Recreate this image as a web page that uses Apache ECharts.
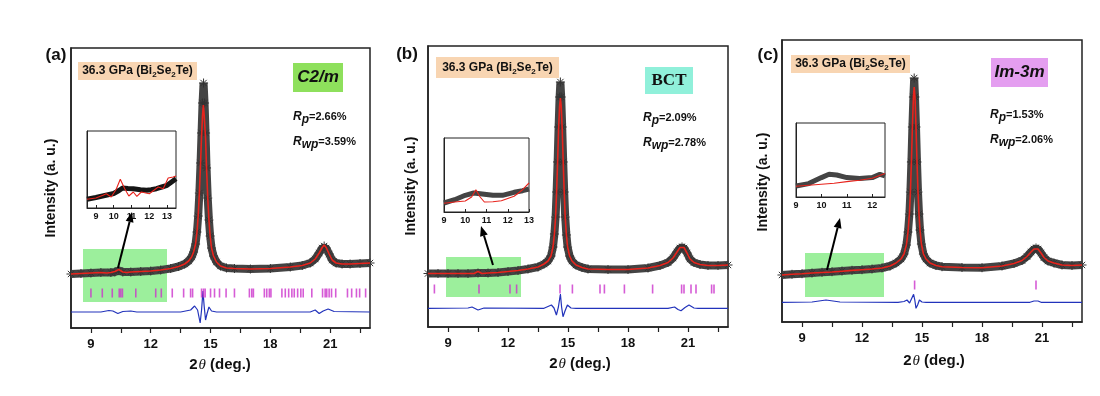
<!DOCTYPE html>
<html>
<head>
<meta charset="utf-8">
<script src="https://cdn.jsdelivr.net/npm/echarts@6.0.0/dist/echarts.min.js"></script>
<style>
  html, body { margin: 0; background: #fff; }
  #chart { width: 1100px; height: 396px; }
</style>
</head>
<body>
<div id="chart"></div>
<script>
// ---- data (2theta in deg., intensity in plot units) ----
const xTickVals = [9, 10.5, 12, 13.5, 15, 16.5, 18, 19.5, 21, 22.5];
const xLabelVals = [9, 12, 15, 18, 21];

const obsA = [[8.0,54],[8.5,54.5],[9.0,55],[9.5,55.5],[10.0,55.5],[10.2,56],[10.4,57.5],[10.6,56],[11.0,56],[11.5,56.5],[12.0,57],[12.5,58],[13.0,59.5],[13.4,61.5],[13.7,64],[13.9,67],[14.05,71],[14.15,76],[14.25,84],[14.32,96],[14.38,112],[14.44,135],[14.5,165],[14.55,195],[14.6,225],[14.65,245],[14.7,225],[14.75,195],[14.8,160],[14.86,130],[14.92,108],[14.98,92],[15.05,80],[15.15,72],[15.3,66],[15.5,62],[15.8,60],[16.2,59.5],[17,59],[18,59.5],[19,61],[19.6,62.5],[20.0,65],[20.25,69],[20.45,75],[20.6,80],[20.7,82],[20.8,80],[20.95,74],[21.1,68],[21.3,65],[21.6,64],[22,64],[22.5,64.5],[23,65]];
const calcA = [[8.0,54],[8.5,54.5],[9.0,55],[9.5,55.5],[9.8,55],[10.0,55.5],[10.2,56.5],[10.4,58.5],[10.6,56],[10.8,55.5],[11.0,56],[11.5,56.5],[12.0,57],[12.5,58],[13.0,59.5],[13.4,61.5],[13.7,64],[13.9,67],[14.05,71],[14.15,76],[14.25,84],[14.32,96],[14.38,112],[14.44,135],[14.5,165],[14.55,192],[14.6,213],[14.64,223],[14.68,213],[14.75,190],[14.8,160],[14.86,130],[14.92,108],[14.98,92],[15.05,80],[15.15,72],[15.3,66],[15.5,62],[15.8,60],[16.2,59.5],[17,59],[18,59.5],[19,61],[19.6,62.5],[20.0,65],[20.25,69],[20.45,75],[20.6,80.5],[20.7,83],[20.8,80.5],[20.95,74],[21.1,68],[21.3,65],[21.6,64],[22,64],[22.5,64.5],[23,65]];
const diffA = [[8,16],[9.5,16],[9.9,17.5],[10.1,17],[10.35,14.5],[10.6,16.5],[11.0,17],[11.3,16],[13.5,16],[14.0,18],[14.2,22],[14.35,18],[14.48,5],[14.55,18],[14.62,37],[14.68,22],[14.75,8],[14.82,14],[14.92,21],[15.05,17],[15.3,16],[20.0,16],[20.25,18],[20.45,14.5],[20.65,17],[20.9,19],[21.2,16.5],[23,16]];
const refA = [9.0,9.57,10.07,10.42,10.5,10.58,11.25,12.25,12.53,13.08,13.65,14.0,14.1,14.55,14.65,14.73,15.0,15.2,15.45,15.78,16.2,16.95,17.07,17.15,17.7,17.82,17.95,18.03,18.58,18.75,18.92,19.08,19.2,19.37,19.53,19.65,20.08,20.62,20.75,20.83,20.95,21.07,21.28,21.87,22.08,22.32,22.48,22.78];
const insObsA = [[8.5,8.7],[9.0,10.5],[9.5,12.5],[10.0,14.5],[10.3,17.5],[10.5,20],[10.8,19.5],[11.1,19.3],[11.5,18.3],[11.85,17.7],[12.1,18.3],[12.4,19.3],[12.7,21],[13.0,22.7],[13.25,26],[13.5,29.3]];
const insCalcA = [[8.5,8.7],[9.0,10],[9.4,12.7],[9.58,14.3],[9.86,11],[10.14,18.7],[10.37,28.7],[10.62,19.3],[10.85,12],[11.1,16],[11.3,11.7],[11.55,16],[12.0,14.3],[12.5,21],[12.78,19.3],[13.06,30],[13.34,31],[13.5,32]];

const obsB = [[8.0,53.5],[8.5,53.5],[9.0,53.5],[9.5,53.5],[10.0,53.5],[10.5,54],[11.0,54],[11.5,54.5],[12.0,55.5],[12.5,56.5],[13.0,58],[13.5,60],[13.8,63],[14.0,66],[14.15,71],[14.25,80],[14.32,93],[14.38,110],[14.43,135],[14.48,165],[14.53,200],[14.58,230],[14.62,245],[14.66,230],[14.71,200],[14.76,165],[14.81,135],[14.86,110],[14.92,92],[14.98,80],[15.08,71],[15.2,66],[15.4,62],[15.7,59.5],[16,58],[17,57.5],[18,57.5],[19,59],[19.6,61.5],[20.0,64.5],[20.25,69],[20.45,75],[20.6,79],[20.7,80],[20.8,79],[20.95,74],[21.1,68],[21.3,64.5],[21.6,62.5],[22,61.5],[22.5,61.5],[23,62]];
const calcB = [[8.0,53.5],[8.5,53.5],[9.0,53.5],[9.5,53.5],[10.0,53.5],[10.3,53.5],[10.5,55.5],[10.7,53.5],[11.0,54],[11.5,54.5],[12.0,55.5],[12.5,56.5],[13.0,58],[13.5,60],[13.8,63],[14.0,66],[14.15,71],[14.25,80],[14.32,93],[14.38,110],[14.43,135],[14.48,165],[14.53,198],[14.58,221],[14.62,229],[14.66,221],[14.71,198],[14.76,165],[14.81,135],[14.86,110],[14.92,92],[14.98,80],[15.08,71],[15.2,66],[15.4,62],[15.7,59.5],[16,58],[17,57.5],[18,57.5],[19,59],[19.6,61.5],[20.0,64.5],[20.25,69],[20.45,75],[20.6,79.5],[20.7,80.5],[20.8,79.5],[20.95,74],[21.1,68],[21.3,64.5],[21.6,62.5],[22,61.5],[22.5,61.5],[23,62]];
const diffB = [[8,18.7],[10.0,19],[10.2,20],[10.5,17],[10.8,19],[13.8,18.7],[14.17,22],[14.3,19],[14.42,12],[14.52,20],[14.62,33],[14.68,20],[14.75,10.3],[14.85,16],[14.97,22],[15.15,19],[15.4,18.7],[20.0,18.7],[20.33,20],[20.5,17.5],[20.65,16.3],[20.85,19.5],[21.05,22],[21.3,19],[21.5,18.7],[23,18.7]];
const refB = [8.32,10.55,12.1,12.43,14.6,15.22,16.6,16.82,17.82,19.23,20.68,20.8,21.15,21.4,22.18,22.3];
const insObsB = [[9,9],[9.5,12.3],[10,16.7],[10.4,19],[10.8,18],[11.3,16.7],[11.75,16.7],[12.3,19.7],[12.7,21.3],[13,23]];
const insCalcB = [[9,8.7],[9.5,10],[10,11],[10.3,15],[10.5,22.3],[10.7,15],[10.9,10],[11.3,10.3],[11.7,11.3],[12.3,15.7],[12.7,22.3],[13,29]];

const obsC = [[8.0,47],[8.5,47.7],[9.0,48.3],[9.5,49],[10.0,49.7],[10.5,50.3],[11.0,51],[11.5,51.7],[12.0,52.3],[12.5,53],[13.0,54],[13.4,56],[13.7,59],[13.95,63],[14.1,68],[14.22,77],[14.3,90],[14.37,108],[14.42,130],[14.47,160],[14.52,195],[14.57,225],[14.61,244],[14.65,225],[14.7,195],[14.75,160],[14.8,130],[14.85,108],[14.9,92],[14.97,78],[15.07,68],[15.2,63],[15.4,59],[15.7,56.5],[16,55.3],[17,54.5],[18,54.3],[19,56],[19.6,58.5],[20.0,61.5],[20.25,65.5],[20.45,70],[20.6,73],[20.7,74],[20.8,73],[20.95,69],[21.1,64.5],[21.3,61],[21.6,59],[22,57],[22.5,56.5],[23,57]];
const calcC = [[8.0,47],[8.5,47.7],[9.0,48.3],[9.5,49],[10.0,49.5],[10.5,50],[11.0,50.8],[11.5,51.6],[12.0,52.3],[12.5,53],[13.0,54],[13.4,56],[13.7,59],[13.95,63],[14.1,68],[14.22,77],[14.3,90],[14.37,108],[14.42,130],[14.47,160],[14.52,195],[14.57,225],[14.61,235],[14.65,225],[14.7,195],[14.75,160],[14.8,130],[14.85,108],[14.9,92],[14.97,78],[15.07,68],[15.2,63],[15.4,59],[15.7,56.5],[16,55.3],[17,54.5],[18,54.3],[19,56],[19.6,58.5],[20.0,61.5],[20.25,65.5],[20.45,70],[20.6,73],[20.7,74],[20.8,73],[20.95,69],[21.1,64.5],[21.3,61],[21.6,59],[22,57],[22.5,56.5],[23,57]];
const diffC = [[8,19.7],[9.5,20],[10.2,22],[10.9,20],[13.8,19.7],[14.1,20.5],[14.25,22],[14.38,19],[14.47,17],[14.58,27.7],[14.64,22],[14.7,13.7],[14.78,17],[14.87,22],[15.0,20],[15.2,19.7],[20.4,19.7],[20.6,21],[20.7,23],[20.8,21],[20.95,19.7],[23,19.7]];
const refC = [14.63, 20.7];
const insObsC = [[9,11],[9.5,13.4],[10,19.4],[10.3,22.7],[10.6,22],[11,19.4],[11.5,18.4],[12,19.4],[12.3,22.7],[12.5,21]];
const insCalcC = [[9,10.7],[9.5,11.7],[10,12.7],[10.5,13.7],[11,15.4],[11.5,16.7],[12,18.7],[12.5,23.4]];

const pressureText = '36.3 GPa (Bi{s|2}Se{s|2}Te)';
const phases = ['C2/m', 'BCT', 'Im-3m'];
const rpVals = ['2.66%', '2.09%', '1.53%'];
const rwpVals = ['3.59%', '2.78%', '2.06%'];
const panelTags = ['(a)', '(b)', '(c)'];

// ---- layout ----
const FONT = 'Liberation Sans, Arial, sans-serif';
const panels = [
  { grid: {left: 71, top: 48, width: 299, height: 280}, inset: {left: 87, top: 131, width: 89, height: 77},
    insRange: [8.5, 13.5], insLabels: [9, 10, 11, 12, 13], obs: obsA, calc: calcA, diff: diffA, ref: refA, refH: 35,
    insObs: insObsA, insCalc: insCalcA, insObsColor: '#151515',
    tag: [56, 55], yName: [51, 188], xName: [220, 365],
    pBox: [78, 62, 119, 18], phBox: [293, 63, 50, 29], phColor: '#8ee05c', phFont: 'italic bold 17px ' + FONT,
    rp: [293, 117], rwp: [293, 142],
    green: [83, 249, 84, 53], arrow: [118, 268, 132, 212] },
  { grid: {left: 428, top: 46, width: 300, height: 281}, inset: {left: 444, top: 138, width: 85, height: 74},
    insRange: [9, 13], insLabels: [9, 10, 11, 12, 13], obs: obsB, calc: calcB, diff: diffB, ref: refB, refH: 38,
    insObs: insObsB, insCalc: insCalcB, insObsColor: '#444',
    tag: [407, 54], yName: [411, 186], xName: [580, 364],
    pBox: [436, 57, 123, 21], phBox: [645, 67, 48, 27], phColor: '#90f0da', phFont: 'bold 17px Liberation Serif, Times New Roman, serif',
    rp: [643, 118], rwp: [643, 143],
    green: [446, 257, 75, 40], arrow: [493, 265, 481, 226] },
  { grid: {left: 782, top: 40, width: 300, height: 282}, inset: {left: 796, top: 123, width: 89, height: 74},
    insRange: [9, 12.5], insLabels: [9, 10, 11, 12], obs: obsC, calc: calcC, diff: diffC, ref: refC, refH: 37,
    insObs: insObsC, insCalc: insCalcC, insObsColor: '#444',
    tag: [768, 55], yName: [763, 182], xName: [934, 361],
    pBox: [791, 55, 119, 18], phBox: [991, 58, 57, 29], phColor: '#e49ef0', phFont: 'italic bold 17px ' + FONT,
    rp: [990, 115], rwp: [990, 140],
    green: [805, 253, 79, 44], arrow: [827, 270, 840, 218] }
];

const asterisk = 'path://M4,0L4,8M0,4L8,4M1.2,1.2L6.8,6.8M6.8,1.2L1.2,6.8';

const grids = [], xAxes = [], yAxes = [], series = [], graphics = [];

panels.forEach((p, i) => {
  const gi = grids.length;
  grids.push(Object.assign({show: true, borderColor: '#222', borderWidth: 1.5, backgroundColor: 'transparent'}, p.grid));
  xAxes.push({
    gridIndex: gi, type: 'value', min: 8, max: 23,
    axisLine: {lineStyle: {color: '#222', width: 1.5}},
    axisTick: {customValues: xTickVals, length: 5, lineStyle: {color: '#222', width: 1.2}},
    axisLabel: {customValues: xLabelVals, color: '#111', fontSize: 13, fontWeight: 'bold', fontFamily: FONT, margin: 10},
    splitLine: {show: false}
  });
  yAxes.push({
    gridIndex: gi, type: 'value', min: 0, max: p.grid.height,
    axisLine: {show: true, lineStyle: {color: '#222', width: 1.5}},
    axisTick: {show: false}, axisLabel: {show: false}, splitLine: {show: false}
  });
  series.push({
    type: 'line', xAxisIndex: gi, yAxisIndex: gi, data: p.obs, z: 3,
    symbol: asterisk, symbolSize: 9, showAllSymbol: true,
    lineStyle: {color: '#444', width: 8},
    itemStyle: {color: 'rgba(0,0,0,0)', borderColor: '#333', borderWidth: 1}
  });
  series.push({
    type: 'line', xAxisIndex: gi, yAxisIndex: gi, data: p.calc, z: 4, symbol: 'none',
    lineStyle: {color: '#e8231c', width: 1.6}
  });
  series.push({
    type: 'scatter', xAxisIndex: gi, yAxisIndex: gi, z: 4,
    data: p.ref.map(x => [x, p.refH]),
    symbol: 'rect', symbolSize: [1.6, 9], itemStyle: {color: '#cc33cc'}
  });
  series.push({
    type: 'line', xAxisIndex: gi, yAxisIndex: gi, data: p.diff, z: 4, symbol: 'none',
    lineStyle: {color: '#2233bb', width: 1.2}
  });

  // inset
  const ii = grids.length;
  grids.push(Object.assign({show: true, borderColor: '#222', borderWidth: 1, backgroundColor: '#fff'}, p.inset));
  xAxes.push({
    gridIndex: ii, type: 'value', min: p.insRange[0], max: p.insRange[1],
    axisLine: {lineStyle: {color: '#222', width: 1}},
    axisTick: {customValues: p.insLabels, inside: true, length: 3, lineStyle: {color: '#222'}},
    axisLabel: {customValues: p.insLabels, color: '#111', fontSize: 9, fontWeight: 'bold', fontFamily: FONT, margin: 4},
    splitLine: {show: false}
  });
  yAxes.push({
    gridIndex: ii, type: 'value', min: 0, max: p.inset.height,
    axisLine: {show: true, lineStyle: {color: '#222', width: 1}},
    axisTick: {show: false}, axisLabel: {show: false}, splitLine: {show: false}
  });
  series.push({
    type: 'line', xAxisIndex: ii, yAxisIndex: ii, data: p.insObs, z: 5, symbol: 'none',
    lineStyle: {color: p.insObsColor, width: 5}
  });
  series.push({
    type: 'line', xAxisIndex: ii, yAxisIndex: ii, data: p.insCalc, z: 6, symbol: 'none',
    lineStyle: {color: '#e8231c', width: 1.1}
  });

  // decorations
  graphics.push({type: 'rect', z: 1, shape: {x: p.green[0], y: p.green[1], width: p.green[2], height: p.green[3]},
    style: {fill: '#9cef9c'}});
  graphics.push({type: 'text', z: 10, x: p.tag[0], y: p.tag[1],
    style: {text: panelTags[i], font: 'bold 17px ' + FONT, fill: '#111', align: 'center', verticalAlign: 'middle'}});
  graphics.push({type: 'text', z: 10, x: p.yName[0], y: p.yName[1], rotation: Math.PI / 2,
    style: {text: 'Intensity (a. u.)', font: 'bold 14px ' + FONT, fill: '#111', align: 'center', verticalAlign: 'middle'}});
  graphics.push({type: 'text', z: 10, x: p.xName[0], y: p.xName[1],
    style: {text: '{b|2}{t|θ}{b| (deg.)}', align: 'center', verticalAlign: 'middle',
      rich: {b: {font: 'bold 15px ' + FONT, fill: '#111'}, t: {font: 'italic 15px Liberation Serif, serif', fill: '#111', padding: [0, 0, 0, 1]}}}});
  // pressure label
  graphics.push({type: 'rect', z: 9, shape: {x: p.pBox[0], y: p.pBox[1], width: p.pBox[2], height: p.pBox[3]},
    style: {fill: '#f8d5b2'}});
  graphics.push({type: 'text', z: 10, x: p.pBox[0] + p.pBox[2] / 2, y: p.pBox[1] + p.pBox[3] / 2,
    style: {text: pressureText, font: 'bold 12px ' + FONT, fill: '#111', align: 'center', verticalAlign: 'middle', lineHeight: 16,
      rich: {s: {font: 'bold 8px ' + FONT, fill: '#111', lineHeight: 9, verticalAlign: 'bottom'}}}});
  // phase label
  graphics.push({type: 'rect', z: 9, shape: {x: p.phBox[0], y: p.phBox[1], width: p.phBox[2], height: p.phBox[3]},
    style: {fill: p.phColor}});
  graphics.push({type: 'text', z: 10, x: p.phBox[0] + p.phBox[2] / 2, y: p.phBox[1] + p.phBox[3] / 2,
    style: {text: phases[i], font: p.phFont, fill: '#111', align: 'center', verticalAlign: 'middle'}});
  // R factors
  [[p.rp, 'p', rpVals[i]], [p.rwp, 'wp', rwpVals[i]]].forEach(([pos, sub, val]) => {
    graphics.push({type: 'text', z: 10, x: pos[0], y: pos[1],
      style: {text: '{r|R}{s|' + sub + '}{n|=' + val + '}', align: 'left', verticalAlign: 'middle', lineHeight: 18,
        rich: {
          r: {font: 'italic bold 12px ' + FONT, fill: '#111', lineHeight: 18},
          s: {font: 'italic bold 12px ' + FONT, fill: '#111', lineHeight: 12, verticalAlign: 'bottom'},
          n: {font: 'bold 11px ' + FONT, fill: '#111', lineHeight: 18}
        }}});
  });
  // arrow
  const [x1, y1, x2, y2] = p.arrow;
  const ang = Math.atan2(y2 - y1, x2 - x1);
  const L = 10, W = 4;
  const bx = x2 - L * Math.cos(ang), by = y2 - L * Math.sin(ang);
  const nx = -Math.sin(ang) * W, ny = Math.cos(ang) * W;
  graphics.push({type: 'line', z: 10, shape: {x1: x1, y1: y1, x2: bx, y2: by}, style: {stroke: '#000', lineWidth: 2}});
  graphics.push({type: 'polygon', z: 10, shape: {points: [[x2, y2], [bx + nx, by + ny], [bx - nx, by - ny]]}, style: {fill: '#000'}});
});

const chart = echarts.init(document.getElementById('chart'), null, {renderer: 'canvas'});
chart.setOption({
  animation: false,
  backgroundColor: '#fff',
  grid: grids,
  xAxis: xAxes,
  yAxis: yAxes,
  series: series,
  graphic: graphics
});
</script>
</body>
</html>
